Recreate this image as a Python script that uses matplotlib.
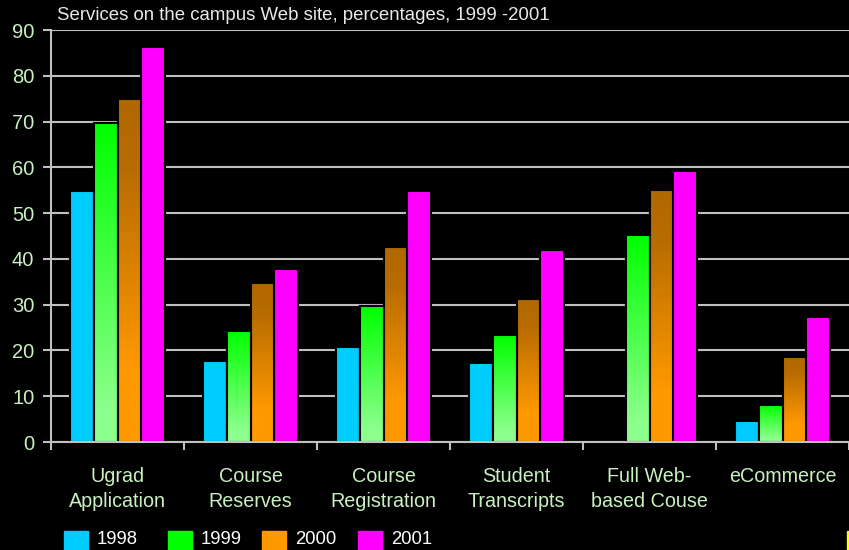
import matplotlib
matplotlib.use("Agg")
import matplotlib.pyplot as plt
import numpy as np
from matplotlib.colors import LinearSegmentedColormap
from matplotlib.patches import Rectangle

plt.rcParams['font.family'] = ['Liberation Sans', 'DejaVu Sans']

categories = ["Ugrad\nApplication", "Course\nReserves", "Course\nRegistration",
              "Student\nTranscripts", "Full Web-\nbased Couse", "eCommerce"]
years = ["1998", "1999", "2000", "2001"]
v1998 = [54.8, 17.7, 20.8, 17.3, 0, 4.6]
v1999 = [69.7, 24.3, 29.6, 23.4, 45.3, 8.1]
v2000 = [74.9, 34.8, 42.7, 31.3, 55.0, 18.6]
v2001 = [86.2, 37.9, 54.9, 41.9, 59.2, 27.4]
series = [v1998, v1999, v2000, v2001]

# solid colour (used for legend) and gradient (top -> bottom) per series
solid = ["#00CCFF", "#00FF00", "#FF9900", "#FF00FF"]
grads = [None,
         LinearSegmentedColormap.from_list("g", [(0, "#00FF00"), (0.9, "#8CFF8C"), (1, "#8CFF8C")]),
         LinearSegmentedColormap.from_list("o", [(0, "#B06800"), (0.2, "#B86C00"), (0.8, "#FF9900"), (1, "#FF9900")]),
         None]

bg = "black"
grid_c = "#C0C0C0"
lab_c = "#C8F0C0"

fig = plt.figure(figsize=(8.49, 5.5), dpi=100, facecolor=bg)
ax = fig.add_axes([51 / 849, 108 / 550, 798 / 849, 412 / 550])
ax.set_facecolor(bg)

x = np.arange(len(categories)) + 0.5
w = 0.177
grad_img = np.linspace(0, 1, 256).reshape(-1, 1)

for i, vals in enumerate(series):
    vals = np.array(vals, dtype=float)
    keep = vals > 0  # empty bars are not drawn at all
    xs = (x + (i - 1.5) * w)[keep]
    vals = vals[keep]
    bars = ax.bar(xs, vals, width=w, color=solid[i], edgecolor=bg, linewidth=1.5, zorder=3)
    if grads[i] is not None:
        for b in bars:
            h = b.get_height()
            x0 = b.get_x()
            im = ax.imshow(grad_img, cmap=grads[i], extent=[x0, x0 + w, 0, h],
                           aspect='auto', origin='upper', interpolation='bilinear', zorder=3.1)
            im.set_clip_path(b)
        ax.bar(xs, vals, width=w, fill=False, edgecolor=bg, linewidth=1.5, zorder=3.2)

ax.set_xlim(0, len(categories))
ax.set_ylim(0, 90)
ax.set_yticks(np.arange(0, 91, 10))
ax.yaxis.grid(True, color=grid_c, linewidth=1.5, zorder=1)
ax.set_axisbelow(True)

ax.set_xticks(np.arange(len(categories) + 1))
ax.set_xticklabels([])
ax.set_xticks(x, minor=True)
ax.set_xticklabels(categories, minor=True, fontsize=14.2, color=lab_c, linespacing=1.38)
ax.tick_params(axis='x', which='minor', length=0, pad=18)
ax.tick_params(axis='x', which='major', length=6, width=1.5, color=grid_c, direction='out')
ax.tick_params(axis='y', length=6, width=1.5, color=grid_c, labelsize=14.5, labelcolor=lab_c, pad=6)

for s in ["top", "right"]:
    ax.spines[s].set_visible(False)
for s in ["left", "bottom"]:
    ax.spines[s].set_color(grid_c)
    ax.spines[s].set_linewidth(1.5)
    ax.spines[s].set_zorder(5)

fig.text(57 / 849, 1 - 15 / 550, "Services on the campus Web site, percentages, 1999 -2001",
         color="#E8E8E8", fontsize=13.4, va="center", ha="left")

# legend along the bottom
leg_x = [64, 168, 262, 358]
for i, yr in enumerate(years):
    fig.patches.append(Rectangle((leg_x[i] / 849, 0), 24 / 849, 19 / 550,
                                 transform=fig.transFigure, color=solid[i]))
    fig.text((leg_x[i] + 33) / 849, 10 / 550, yr, color="white", fontsize=13.3,
             va="center", ha="left")

fig.patches.append(Rectangle((847 / 849, 0), 2 / 849, 19 / 550,
                             transform=fig.transFigure, color="#FFFF00"))

fig.savefig("out.png", dpi=100, facecolor=bg)
